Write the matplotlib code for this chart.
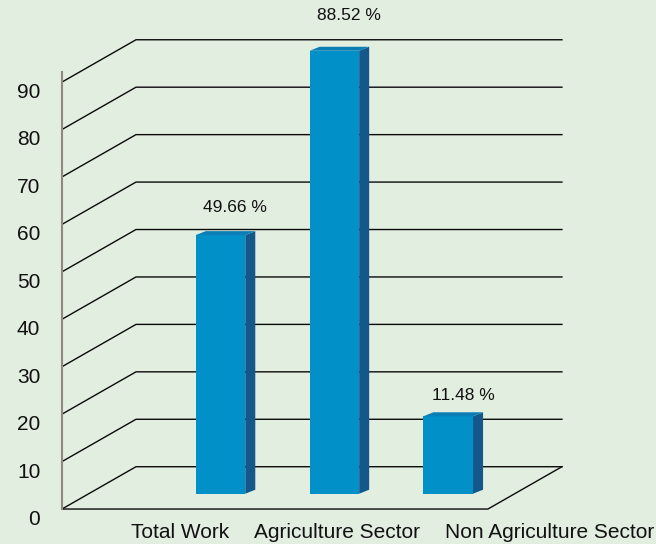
import matplotlib
matplotlib.use("Agg")
import matplotlib.pyplot as plt
from matplotlib.patches import Polygon

plt.rcParams['font.family'] = ['Liberation Sans', 'DejaVu Sans']

# values shown on the bars (%)
categories = ["Total Work", "Agriculture Sector", "Non Agriculture Sector"]
shares = [49.66, 88.52, 11.48]
grid_values = [0, 10, 20, 30, 40, 50, 60, 70, 80, 90]

bg = '#e2eee0'
c_front = '#0190c8'
c_side = '#13578b'
c_top = '#0b7fb5'

# oblique "3d" box: back wall in data units, floor/front shifted by depth
back_left, back_right = -0.742, 2.998
depth_dx, depth_dy = 0.650, 8.92
front_left = back_left - depth_dx
front_right = back_right - depth_dx
bar_base = -5.69
bar_w = 0.435
bar_dx, bar_dy = 0.088, 0.84

fig = plt.figure(figsize=(6.56, 5.44), dpi=100, facecolor=bg)
ax = fig.add_axes([0, 0, 1, 1])
ax.set_facecolor(bg)
ax.set_xlim(-1.936, 3.824)
ax.set_ylim(-16.29, 98.38)
ax.axis('off')

# gridlines: diagonal on the left side wall, then across the back wall
for g in grid_values:
    ax.plot([front_left, back_left, back_right], [g - depth_dy, g, g],
            color='#0a0a0a', lw=1.0, solid_joinstyle='miter', zorder=1)
    ax.text(front_left - 0.19, g - depth_dy - 2.2, str(g), ha='right',
            va='center', fontsize=15, color='#111111')

# floor outline
ax.plot([front_left, front_right, back_right], [-depth_dy, -depth_dy, 0],
        color='#0a0a0a', lw=1.0, zorder=1)

# value axis on the front left edge
ax.plot([front_left, front_left], [-depth_dy, 83.2], color='#8b8b80', lw=1.5, zorder=2)

# bars
for i, v in enumerate(shares):
    x0 = i - bar_w / 2
    x1 = i + bar_w / 2
    top = v - bar_dy
    ax.add_patch(Polygon([(x0, bar_base), (x1, bar_base), (x1, top), (x0, top)],
                         closed=True, facecolor=c_front, edgecolor='none', zorder=3))
    ax.add_patch(Polygon([(x1, bar_base), (x1 + bar_dx, bar_base + bar_dy),
                          (x1 + bar_dx, v), (x1, top)],
                         closed=True, facecolor=c_side, edgecolor='none', zorder=3))
    ax.add_patch(Polygon([(x0, top), (x1, top), (x1 + bar_dx, v), (x0 + bar_dx, v)],
                         closed=True, facecolor=c_top, edgecolor='none', zorder=3))
    ax.text(i + 0.13, v + 3 + 0.04 * v, '{:.2f} %'.format(v), ha='center',
            va='center', fontsize=12.5, color='#111111', zorder=4)

# category labels laid out in one row with an even gap
renderer = fig.canvas.get_renderer()
inv = ax.transData.inverted()
x = -0.786
gap = 0.22
for name in categories:
    t = ax.text(x, -15.05, name, ha='left', va='baseline', fontsize=15,
                color='#111111')
    bb = t.get_window_extent(renderer)
    x_end = inv.transform((bb.x1, bb.y0))[0]
    x = x_end + gap

fig.savefig('out.png', dpi=100, facecolor=bg)
